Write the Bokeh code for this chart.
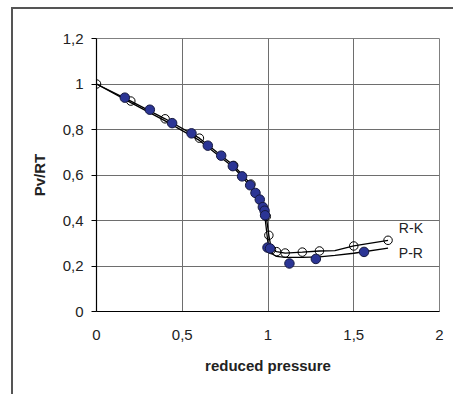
from bokeh.plotting import figure
from bokeh.models import Range1d, FixedTicker, Label
from bokeh.embed import file_html
from bokeh.resources import INLINE

# R-K model curve (open circles)
rk_x = [0.0, 0.2, 0.4, 0.6, 0.8, 0.9, 0.95, 0.99, 1.005, 1.02, 1.05, 1.1, 1.2, 1.3, 1.39, 1.5, 1.7]
rk_y = [1.0, 0.925, 0.847, 0.762, 0.642, 0.560, 0.495, 0.418, 0.335, 0.272, 0.263, 0.257, 0.261, 0.266, 0.268, 0.288, 0.313]
rk_mx = [0.0, 0.2, 0.4, 0.6, 0.8, 0.9, 0.99, 1.005, 1.02, 1.05, 1.1, 1.2, 1.3, 1.5, 1.7]
rk_my = [1.0, 0.925, 0.847, 0.762, 0.642, 0.560, 0.418, 0.335, 0.272, 0.263, 0.257, 0.261, 0.266, 0.288, 0.313]

# P-R model curve (line only)
pr_x = [0.0, 0.2, 0.4, 0.6, 0.8, 0.9, 0.95, 0.98, 1.0, 1.02, 1.05, 1.1, 1.2, 1.3, 1.39, 1.5, 1.7]
pr_y = [1.0, 0.918, 0.838, 0.752, 0.633, 0.548, 0.488, 0.43, 0.30, 0.255, 0.242, 0.238, 0.238, 0.240, 0.247, 0.256, 0.279]

# experimental data (filled)
ex_x = [0.165, 0.311, 0.441, 0.554, 0.649, 0.727, 0.795, 0.849, 0.896, 0.927, 0.952, 0.970, 0.980, 0.983, 0.997, 1.012, 1.125, 1.279, 1.56]
ex_y = [0.940, 0.887, 0.828, 0.783, 0.729, 0.685, 0.639, 0.594, 0.555, 0.521, 0.492, 0.459, 0.443, 0.423, 0.281, 0.277, 0.211, 0.231, 0.262]

x_ticks = [0, 0.5, 1, 1.5, 2]
x_tick_labels = ["0", "0,5", "1", "1,5", "2"]
y_ticks = [0, 0.2, 0.4, 0.6, 0.8, 1, 1.2]
y_tick_labels = ["0", "0,2", "0,4", "0,6", "0,8", "1", "1,2"]

FONT = "Liberation Sans"

p = figure(width=453, height=394, output_backend="svg", toolbar_location=None,
           x_range=Range1d(0, 2), y_range=Range1d(0, 1.2),
           min_border_left=96, min_border_right=14, min_border_top=38, min_border_bottom=83)
p.background_fill_color = "white"
p.border_fill_color = None
p.outline_line_color = "#808080"
p.outline_line_width = 1
# outer chart-area border (top and left edges visible in the reference)
p.styles = {
    "background-color": "white",
    "background-image": "linear-gradient(#555555, #555555), linear-gradient(#555555, #555555)",
    "background-position": "11px 7px, 11px 7px",
    "background-size": "2px 400px, 460px 2px",
    "background-repeat": "no-repeat",
}

for ax in (p.xaxis[0], p.yaxis[0]):
    ax.axis_line_color = "black"
    ax.axis_line_width = 1.2
    ax.minor_tick_line_color = None
    ax.major_label_text_font = FONT
    ax.major_label_text_font_size = "15px"
    ax.major_label_text_color = "#222222"
    ax.axis_label_text_font = FONT
    ax.axis_label_text_font_size = "15px"
    ax.axis_label_text_font_style = "bold"
    ax.axis_label_text_color = "#222222"

p.xaxis.ticker = FixedTicker(ticks=x_ticks)
p.xaxis.major_label_overrides = dict(zip(x_ticks, x_tick_labels))
p.xaxis.major_tick_out = 0
p.xaxis.major_tick_in = 0
p.xaxis.major_label_standoff = 18
p.xaxis.axis_label = "reduced pressure"
p.xaxis.axis_label_standoff = 14

p.yaxis.ticker = FixedTicker(ticks=y_ticks)
p.yaxis.major_label_overrides = dict(zip(y_ticks, y_tick_labels))
p.yaxis.major_tick_out = 5
p.yaxis.major_tick_in = 0
p.yaxis.major_tick_line_color = "black"
p.yaxis.major_label_standoff = 8
p.yaxis.axis_label = "Pv/RT"
p.yaxis.axis_label_standoff = 12

p.xgrid.ticker = FixedTicker(ticks=x_ticks)
p.ygrid.ticker = FixedTicker(ticks=y_ticks)
p.grid.grid_line_color = "#6e6e6e"
p.grid.grid_line_width = 1

p.line(pr_x, pr_y, line_color="black", line_width=1.3)
p.line(rk_x, rk_y, line_color="black", line_width=1.3)
p.scatter(rk_mx, rk_my, marker="circle", size=8.5, fill_color=None,
          line_color="black", line_width=1)
p.scatter(ex_x, ex_y, marker="circle", size=9.5, fill_color="#2B3595",
          line_color="#15183f", line_width=1)

p.add_layout(Label(x=1.763, y=0.367, text="R-K", text_font=FONT, text_font_size="14px",
                   text_color="#222222", text_baseline="middle", text_align="left"))
p.add_layout(Label(x=1.763, y=0.255, text="P-R", text_font=FONT, text_font_size="14px",
                   text_color="#222222", text_baseline="middle", text_align="left"))

open("out.html", "w").write(file_html(p, INLINE))
